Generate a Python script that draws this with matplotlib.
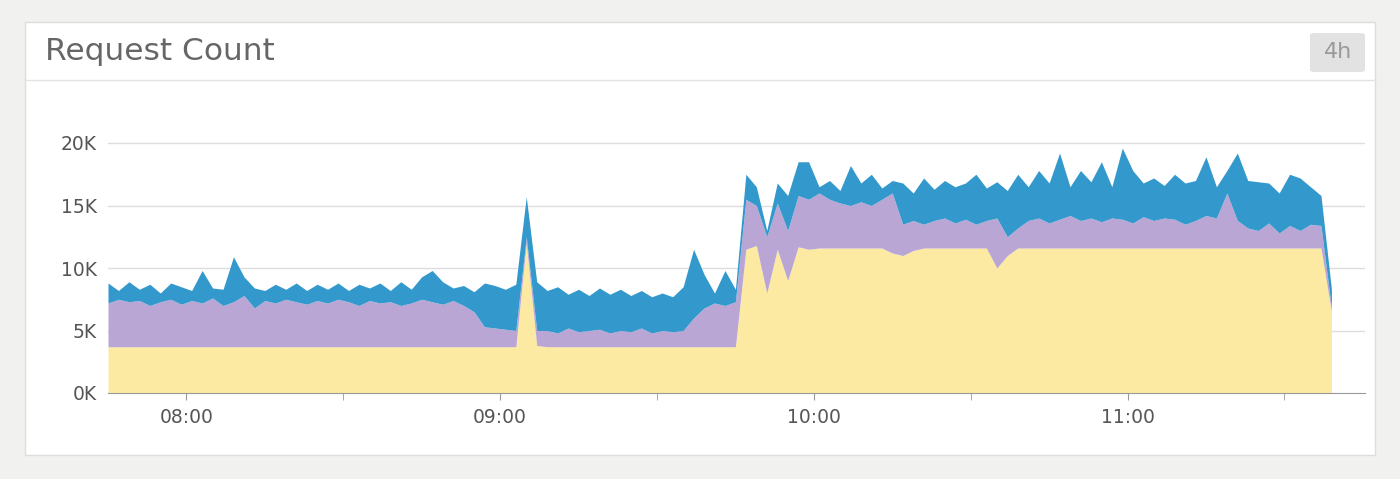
import matplotlib
matplotlib.use("Agg")
import matplotlib.pyplot as plt
from matplotlib.patches import Rectangle, FancyBboxPatch
import numpy as np

yellow_top = ([3.7]*40 + [12.0, 3.8] + [3.7]*19 +
              [11.5, 11.8, 8.0, 11.5, 9.0, 11.7, 11.5] + [11.6]*7 +
              [11.2, 11.0, 11.4] + [11.6]*7 + [10.0, 11.0] + [11.6]*30 + [6.5])
purple_top = [7.2,7.5,7.3,7.4,7.0,7.3,7.5,7.1,7.4,7.2,
              7.6,7.0,7.3,7.8,6.8,7.4,7.2,7.5,7.3,7.1,
              7.4,7.2,7.5,7.3,7.0,7.4,7.2,7.3,7.0,7.2,
              7.5,7.3,7.1,7.4,7.0,6.5,5.3,5.2,5.1,5.0,
              12.5,5.0,5.0,4.8,5.2,4.9,5.0,5.1,4.8,5.0,4.9,5.2,4.8,5.0,4.9,
              5.0,6.0,6.8,7.2,7.0,7.3,
              15.5,15.0,12.5,15.2,13.0,15.8,15.5,16.0,15.5,15.2,15.0,15.3,15.0,15.5,16.0,13.5,13.8,
              13.5,13.8,14.0,13.6,13.9,13.5,13.8,14.0,12.5,13.2,13.8,14.0,13.6,13.9,14.2,13.8,14.0,
              13.7,14.0,13.9,13.6,14.1,13.8,14.0,13.9,13.5,13.8,14.2,14.0,16.0,13.8,13.2,13.0,13.6,
              12.8,13.4,13.0,13.5,13.4,6.8]
blue_top = [8.8,8.2,8.9,8.3,8.7,8.0,8.8,8.5,8.2,9.8,8.4,8.3,10.9,9.3,8.4,8.2,8.7,8.3,8.8,8.2,
            8.7,8.3,8.8,8.2,8.7,8.4,8.8,8.2,8.9,8.3,
            9.3,9.8,8.9,8.4,8.6,8.1,8.8,8.6,8.3,8.7,
            15.7,8.9,8.2,8.5,7.9,8.3,7.8,8.4,7.9,8.3,7.8,8.2,7.7,8.0,7.7,
            8.5,11.5,9.5,8.0,9.8,8.3,
            17.5,16.5,13.0,16.8,15.8,18.5,18.5,16.5,17.0,16.2,18.2,16.8,17.5,16.4,17.0,16.8,16.0,
            17.2,16.3,17.0,16.5,16.8,17.5,16.4,16.9,16.2,17.5,16.5,17.8,16.8,19.2,16.5,17.8,16.9,
            18.5,16.5,19.6,17.8,16.8,17.2,16.6,17.5,16.8,17.0,18.9,16.5,17.8,19.2,17.0,16.9,16.8,
            16.0,17.5,17.2,16.5,15.8,8.3]
n = min(len(yellow_top), len(purple_top), len(blue_top))
yellow_top, purple_top, blue_top = [np.array(a[:n]) for a in (yellow_top, purple_top, blue_top)]
start_hour = 7.75
step_hours = 2/60
x = start_hour + np.arange(n)*step_hours
tick_hours = [8, 9, 10, 11]
tick_labels = ["08:00", "09:00", "10:00", "11:00"]
y_ticks = [0, 5, 10, 15, 20]
y_labels = ["0K", "5K", "10K", "15K", "20K"]

fig = plt.figure(figsize=(14, 4.79), dpi=100)
fig.patch.set_facecolor("#f1f1f0")
fig.patches.append(Rectangle((25/1400, 1-455/479), 1350/1400, 433/479, transform=fig.transFigure,
                             facecolor="white", edgecolor="#dddddd", lw=1, zorder=-5))
fig.lines.append(plt.Line2D([25/1400, 1375/1400], [1-80/479]*2, transform=fig.transFigure, color="#e3e3e3", lw=1))
fig.text(45/1400, 1-52/479, "Request Count", fontsize=22.5, color="#666666", va="center", ha="left")
fig.patches.append(FancyBboxPatch((1310/1400, 1-72/479), 55/1400, 39/479, transform=fig.transFigure,
                                  boxstyle="round,pad=0,rounding_size=0.004", facecolor="#e2e2e2", edgecolor="none"))
fig.text(1338/1400, 1-52/479, "4h", fontsize=16, color="#999999", va="center", ha="center")

ax = fig.add_axes([108/1400, 1-393/479, 1257/1400, 273/479])
ax.set_zorder(5)
ax.patch.set_alpha(0)
ax.fill_between(x, 0, yellow_top, color="#fdeaa2", lw=0, zorder=2)
ax.fill_between(x, yellow_top, purple_top, color="#b9a6d5", lw=0, zorder=2)
ax.fill_between(x, purple_top, blue_top, color="#3399cc", lw=0, zorder=2)
ax.set_xlim(7.75, 7.75 + 1257/313.7)
ax.set_ylim(0, 273/12.5)
ax.set_yticks(y_ticks, y_labels)
ax.set_xticks(tick_hours, tick_labels)
ax.set_xticks([8.5, 9.5, 10.5, 11.5], minor=True)
for y in y_ticks[1:]:
    ax.axhline(y, color="#dddddd", lw=1, zorder=0)
for s in ["top", "right", "left"]:
    ax.spines[s].set_visible(False)
ax.spines["bottom"].set_color("#999999")
ax.tick_params(axis="y", length=0, labelsize=13.5, labelcolor="#555555", pad=8)
ax.tick_params(axis="x", which="both", length=5, color="#999999", labelsize=13.5, labelcolor="#555555", pad=6)
fig.savefig("out.png", dpi=100, facecolor=fig.get_facecolor())
